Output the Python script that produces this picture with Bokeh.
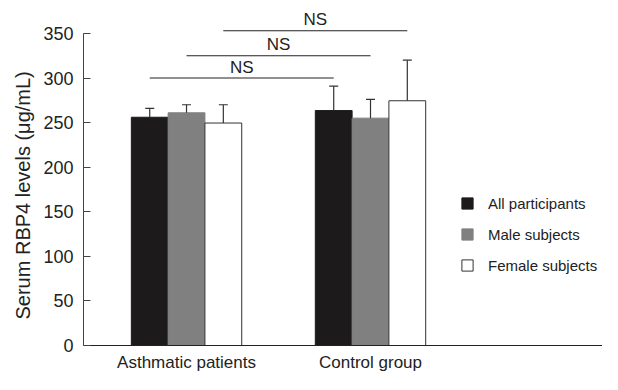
from bokeh.plotting import figure
from bokeh.models import (Range1d, Whisker, ColumnDataSource, Legend, LegendItem,
                          TeeHead, FixedTicker, Title)
from bokeh.embed import file_html
from bokeh.resources import INLINE
from bokeh.core.properties import value

# ---- data ----
groups = ["Asthmatic patients", "Control group"]
series = ["All participants", "Male subjects", "Female subjects"]
all_mean = [256, 263.5]
male_mean = [261, 255]
female_mean = [249.5, 274.5]
all_sd = [10, 27.5]
male_sd = [9, 21]
female_sd = [20.5, 45.5]
ns_levels = [300, 325, 353]
ns_labels = ["NS", "NS", "NS"]
y_ticks = [0, 50, 100, 150, 200, 250, 300, 350]
y_title = "Serum RBP4 levels (μg/mL)"

means = [all_mean, male_mean, female_mean]
sds = [all_sd, male_sd, female_sd]
fills = ["#1c1a1a", "#808080", "#ffffff"]
outlines = ["#1c1a1a", "#808080", "#333333"]
offsets = [-0.2, 0.0, 0.2]
bar_w = 0.2

FONT = "Liberation Sans"
TXT = "#222222"

p = figure(width=602, height=374, output_backend="svg", toolbar_location=None,
           x_range=Range1d(-0.56, 2.261), y_range=Range1d(0, 384.7),
           min_border_left=83, min_border_right=0, min_border_top=2,
           min_border_bottom=28)
p.xgrid.visible = False
p.ygrid.visible = False
p.outline_line_color = None
p.background_fill_color = "white"
p.border_fill_color = "white"

renderers = []
for si, name in enumerate(series):
    xs = [gi + offsets[si] for gi in range(len(groups))]
    src = ColumnDataSource(dict(x=xs, top=means[si],
                                upper=[m + s for m, s in zip(means[si], sds[si])]))
    r = p.vbar(x="x", top="top", bottom=0, width=bar_w, source=src,
               fill_color=fills[si], line_color=outlines[si], line_width=1)
    renderers.append(r)
    w = Whisker(base="x", lower="top", upper="upper", source=src,
                dimension="height", line_color="#333333", line_width=1.2,
                upper_head=TeeHead(size=9, line_color="#333333", line_width=1.2),
                lower_head=None, level="overlay")
    p.add_layout(w)

# NS comparison lines
for si, lev in enumerate(ns_levels):
    x0 = 0 + offsets[si]
    x1 = 1 + offsets[si]
    p.segment(x0=[x0], x1=[x1], y0=[lev], y1=[lev], line_color="#222222", line_width=1.2)
    p.text(x=[(x0 + x1) / 2], y=[lev], text=[ns_labels[si]], text_align="center",
           text_baseline="middle", y_offset=-11, text_font=value(FONT),
           text_font_size="17px", text_color=TXT)

# axes
ya = p.yaxis[0]
ya.bounds = (0, 350)
ya.ticker = FixedTicker(ticks=y_ticks)
ya.major_tick_in = 7
ya.major_tick_out = 0
ya.minor_tick_in = 0
ya.minor_tick_out = 0
ya.minor_tick_line_color = None
ya.major_label_standoff = 10
ya.major_label_text_font = FONT
ya.major_label_text_font_size = "18px"
ya.major_label_text_color = TXT
ya.axis_line_color = "#444444"
ya.major_tick_line_color = "#444444"

# y-axis title, placed in the left panel and shifted to centre on the 0-350 span
ytitle = Title(text=y_title, align="left", offset=26, standoff=13,
               text_font=FONT, text_font_size="20px", text_font_style="normal",
               text_color=TXT)
p.add_layout(ytitle, "left")

xa = p.xaxis[0]
xa.ticker = FixedTicker(ticks=list(range(len(groups))))
xa.major_label_overrides = {i: g for i, g in enumerate(groups)}
xa.major_tick_in = 0
xa.major_tick_out = 0
xa.minor_tick_in = 0
xa.minor_tick_out = 0
xa.minor_tick_line_color = None
xa.major_label_standoff = 7
xa.major_label_text_font = FONT
xa.major_label_text_font_size = "17px"
xa.major_label_text_color = TXT
xa.axis_line_color = "#222222"

legend = Legend(items=[LegendItem(label=s, renderers=[r]) for s, r in zip(series, renderers)],
                location=(377, 70), orientation="vertical",
                glyph_width=14, glyph_height=14, label_standoff=14, spacing=11,
                label_height=20, padding=0, margin=0, border_line_color=None,
                background_fill_alpha=0, label_text_font=FONT,
                label_text_font_size="15px", label_text_color=TXT)
p.add_layout(legend)

open("out.html", "w").write(file_html(p, INLINE))
